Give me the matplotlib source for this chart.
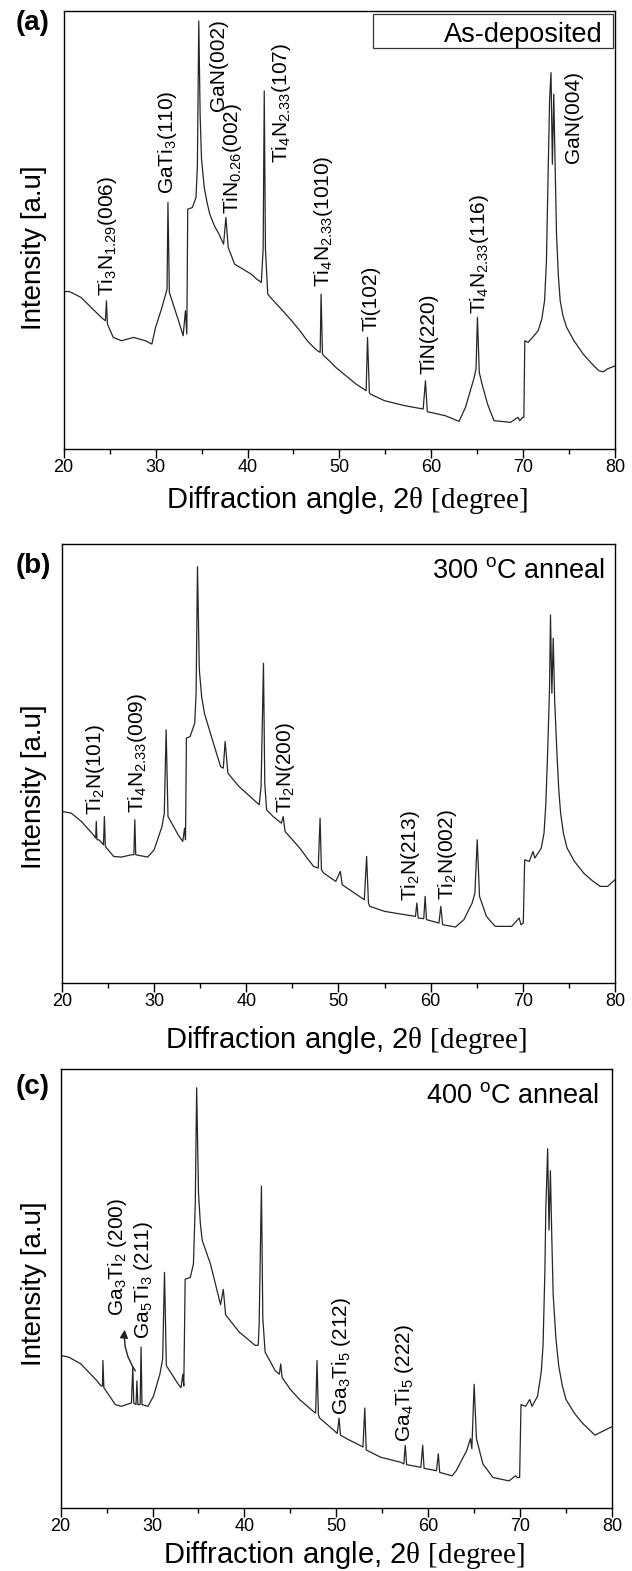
import matplotlib
matplotlib.use("Agg")
import matplotlib.pyplot as plt
from matplotlib.patches import Rectangle

plt.rcParams["font.family"] = ["Liberation Sans", "DejaVu Sans"]
plt.rcParams["mathtext.fontset"] = "custom"
plt.rcParams["mathtext.rm"] = "Liberation Sans"
plt.rcParams["mathtext.it"] = "Liberation Sans:italic"
plt.rcParams["mathtext.bf"] = "Liberation Sans:bold"
plt.rcParams["mathtext.tt"] = "Liberation Serif"

# ---- (a) as-deposited: 2theta [deg] vs intensity [a.u.]
ang_a = [20.0, 20.6, 21.2, 21.9, 23.0, 24.1, 24.55, 24.66, 24.77, 25.4, 26.3, 27.6,
         28.9, 29.6, 30.0, 30.7, 31.1, 31.25, 31.35, 31.5, 32.5, 33.0, 33.25, 33.4,
         33.5, 34.0, 34.4, 34.55, 34.7, 34.85, 35.0, 35.3, 35.6, 35.9, 36.4, 36.9,
         37.4, 37.65, 37.9, 38.6, 39.5, 40.4, 41.0, 41.5, 41.7, 41.82, 41.95, 42.2,
         42.5, 43.0, 44.0, 44.8, 45.7, 46.5, 47.2, 47.6, 47.9, 48.0, 48.15, 48.3,
         49.0, 49.6, 50.7, 51.8, 52.9, 53.05, 53.25, 53.35, 54.9, 57.1, 59.1, 59.35,
         59.55, 61.5, 63.0, 63.7, 64.6, 64.85, 65.0, 65.2, 65.5, 66.1, 66.8, 68.6,
         69.4, 69.6, 69.9, 70.05, 70.15, 70.5, 71.0, 71.6, 72.0, 72.3, 72.5, 72.7,
         72.85, 73.0, 73.15, 73.3, 73.45, 73.6, 73.8, 74.0, 74.3, 74.7, 75.5, 76.5,
         77.3, 78.2, 78.7, 79.1, 80.0]
int_a = [472, 473, 465, 455, 425, 395, 385, 445, 375, 335, 325, 335,
         325, 315, 365, 425, 465, 480, 740, 470, 385, 340, 415, 345,
         720, 725, 755, 850, 1285, 1000, 870, 785, 740, 705, 670, 645,
         615, 695, 605, 555, 540, 525, 510, 500, 600, 1075, 600, 465,
         455, 440, 410, 385, 355, 325, 305, 295, 290, 465, 285, 280,
         262, 245, 220, 195, 175, 335, 170, 165, 145, 130, 120, 205,
         112, 100, 83, 125, 210, 240, 395, 230, 195, 135, 85, 80,
         95, 85, 95, 95, 325, 320, 335, 355, 390, 445, 560, 845,
         1050, 1130, 855, 1065, 850, 645, 520, 445, 400, 365, 325, 285,
         260, 235, 232, 240, 250]

# ---- (b) 300 C anneal
ang_b = [20.0, 21.0, 22.1, 23.4, 23.65, 23.72, 23.8, 24.0, 24.5, 24.6, 24.7, 25.6,
         26.45, 27.55, 27.8, 27.9, 28.0, 29.3, 30.0, 30.85, 31.1, 31.3, 31.5, 32.6,
         33.1, 33.3, 33.4, 33.5, 33.9, 34.4, 34.55, 34.7, 34.9, 35.15, 35.45, 36.1,
         37.2, 37.5, 37.7, 38.0, 39.2, 40.4, 41.4, 41.6, 41.86, 42.0, 42.2, 42.9,
         43.8, 44.0, 44.2, 45.0, 45.8, 46.6, 47.3, 47.8, 48.0, 48.15, 48.4, 49.7,
         50.2, 50.4, 51.2, 52.0, 52.8, 53.05, 53.25, 53.4, 55.0, 57.2, 58.35, 58.5,
         58.65, 59.25, 59.4, 59.55, 60.9, 61.1, 61.3, 62.7, 63.6, 64.5, 64.8, 65.05,
         65.3, 66.05, 67.0, 68.8, 69.6, 69.8, 70.05, 70.2, 70.7, 71.1, 71.3, 72.0,
         72.3, 72.5, 72.7, 72.9, 73.0, 73.15, 73.3, 73.45, 73.7, 73.9, 74.1, 74.4,
         74.8, 75.6, 76.6, 77.5, 78.4, 79.2, 80.0]
int_b = [515, 510, 485, 445, 435, 485, 430, 430, 415, 500, 410, 380,
         378, 385, 385, 490, 385, 378, 400, 470, 510, 760, 500, 445,
         425, 465, 430, 735, 740, 780, 870, 1250, 940, 860, 810, 750,
         650, 645, 725, 630, 590, 560, 535, 590, 960, 600, 520, 500,
         480, 500, 455, 430, 405, 375, 350, 345, 495, 340, 330, 305,
         335, 295, 280, 265, 250, 380, 240, 230, 215, 205, 200, 240,
         195, 193, 260, 190, 180, 230, 175, 168, 190, 240, 270, 430,
         260, 200, 170, 170, 195, 175, 180, 370, 365, 395, 375, 405,
         450, 540, 700, 890, 1105, 870, 1035, 850, 690, 580, 510, 450,
         405, 365, 330, 308, 290, 290, 310]

# ---- (c) 400 C anneal
ang_c = [20.0, 20.9, 22.2, 23.96, 24.4, 24.55, 24.6, 24.7, 25.95, 26.6, 27.7, 27.85,
         27.95, 28.2, 28.3, 28.4, 28.65, 28.75, 28.85, 29.5, 30.1, 30.8, 31.1, 31.3,
         31.5, 32.8, 33.1, 33.3, 33.4, 33.55, 34.1, 34.45, 34.65, 34.8, 35.0, 35.2,
         35.4, 36.3, 37.4, 37.7, 37.95, 39.4, 41.15, 41.5, 41.6, 41.85, 42.0, 42.25,
         43.35, 43.8, 43.95, 44.1, 45.0, 46.0, 47.5, 47.75, 47.9, 48.05, 48.2, 49.7,
         50.1, 50.3, 50.45, 51.3, 52.2, 52.9, 53.1, 53.25, 53.35, 54.8, 57.0, 57.35,
         57.5, 57.65, 59.2, 59.4, 59.55, 60.9, 61.1, 61.25, 62.6, 63.05, 64.2, 64.6,
         64.75, 65.0, 65.25, 65.95, 67.05, 68.8, 69.5, 69.7, 69.95, 70.1, 70.6, 71.05,
         71.3, 71.9, 72.3, 72.5, 72.7, 72.8, 73.0, 73.15, 73.3, 73.45, 73.6, 73.9,
         74.2, 74.6, 75.0, 75.9, 76.8, 78.15, 79.25, 80.0]
int_c = [450, 445, 425, 375, 360, 360, 435, 355, 305, 300, 310, 415,
         310, 305, 375, 305, 305, 475, 305, 300, 330, 395, 440, 695,
         420, 365, 355, 395, 360, 675, 680, 720, 900, 1240, 930, 840,
         790, 720, 600, 645, 570, 520, 480, 480, 540, 950, 560, 460,
         405, 395, 425, 385, 350, 320, 285, 280, 435, 275, 265, 230,
         220, 265, 215, 202, 190, 180, 295, 172, 170, 150, 135, 130,
         185, 128, 120, 185, 117, 110, 160, 105, 95, 110, 170, 205,
         175, 365, 205, 130, 90, 80, 95, 90, 90, 305, 300, 320,
         300, 330, 400, 480, 700, 880, 1060, 820, 995, 800, 630, 500,
         420, 360, 320, 280, 250, 215, 230, 240]

# peak labels: (2theta, intensity at label foot, text)
labels_a = [(24.75, 460, r"Ti$_3$N$_{1.29}$(006)"),
            (31.35, 765, r"GaTi$_3$(110)"),
            (36.85, 1015, "GaN(002)"),
            (38.4, 705, r"TiN$_{0.26}$(002)"),
            (43.7, 860, r"Ti$_4$N$_{2.33}$(107)"),
            (48.3, 485, r"Ti$_4$N$_{2.33}$(1010)"),
            (53.4, 355, "Ti(102)"),
            (59.75, 225, "TiN(220)"),
            (65.25, 405, r"Ti$_4$N$_{2.33}$(116)"),
            (75.4, 860, "GaN(004)")]
labels_b = [(23.6, 505, r"Ti$_2$N(101)"),
            (28.2, 510, r"Ti$_4$N$_{2.33}$(009)"),
            (44.2, 510, r"Ti$_2$N(200)"),
            (57.8, 245, r"Ti$_2$N(213)"),
            (61.8, 250, r"Ti$_2$N(002)")]
labels_c = [(26.2, 565, r"Ga$_3$Ti$_2$ (200)"),
            (29.0, 500, r"Ga$_5$Ti$_3$ (211)"),
            (50.6, 275, r"Ga$_3$Ti$_5$ (212)"),
            (57.45, 195, r"Ga$_4$Ti$_5$ (222)")]

panels = [
    dict(ang=ang_a, inten=int_a, ymax=1315, labels=labels_a, tag="(a)",
         rect=[0.1006, 0.7142, 0.8731, 0.2788], tag_y=10, ylab_y=248, xlab_y=-0.116),
    dict(ang=ang_b, inten=int_b, ymax=1318, labels=labels_b, tag="(b)",
         rect=[0.0981, 0.3743, 0.8750, 0.2794], tag_y=553, ylab_y=787, xlab_y=-0.130),
    dict(ang=ang_c, inten=int_c, ymax=1295, labels=labels_c, tag="(c)",
         rect=[0.0960, 0.0401, 0.8723, 0.2794], tag_y=1074, ylab_y=1284, xlab_y=-0.107),
]

W, H = 632, 1571
fig = plt.figure(figsize=(W / 100, H / 100), dpi=100)
axes = []
for p in panels:
    ax = fig.add_axes(p["rect"])
    ax.plot(p["ang"], p["inten"], color="#262626", lw=0.9)
    ax.set_xlim(20, 80)
    ax.set_ylim(0, p["ymax"])
    ax.set_xticks(range(20, 81, 10))
    ax.set_xticks(range(25, 80, 10), minor=True)
    ax.set_yticks([])
    ax.tick_params(axis="x", which="major", direction="out", length=6.5, width=1.0,
                   labelsize=13, pad=1)
    ax.tick_params(axis="x", which="minor", direction="out", length=3.4, width=1.0)
    for s in ax.spines.values():
        s.set_linewidth(1.0)
    for x, y, t in p["labels"]:
        ax.text(x, y, t, rotation=90, ha="center", va="bottom", fontsize=15)
    ax.text(50.8, p["xlab_y"], r"Diffraction angle, 2$\mathtt{\theta\ [degree]}$",
            transform=ax.get_xaxis_transform(), ha="center", va="center", fontsize=21)
    fig.text(34 / W, 1 - p["ylab_y"] / H, "Intensity [a.u]", rotation=90,
             ha="center", va="center", fontsize=20)
    fig.text(16 / W, 1 - p["tag_y"] / H, p["tag"], ha="left", va="top",
             fontsize=20, fontweight="bold")
    axes.append(ax)

ax_a, ax_b, ax_c = axes
ax_a.add_patch(Rectangle((0.561, 0.9155), 0.4347, 0.0775, transform=ax_a.transAxes,
                         facecolor="white", edgecolor="#333333", lw=0.9, zorder=3))
ax_a.text(0.9775, 0.929, "As-deposited", transform=ax_a.transAxes, ha="right",
          va="baseline", fontsize=19.5, zorder=4)
ax_b.text(0.982, 0.9226, r"300 $^{\mathrm{o}}$C anneal", transform=ax_b.transAxes,
          ha="right", va="baseline", fontsize=19.5)
ax_c.text(0.976, 0.9226, r"400 $^{\mathrm{o}}$C anneal", transform=ax_c.transAxes,
          ha="right", va="baseline", fontsize=19.5)
ax_c.annotate("", xy=(27.0, 534), xytext=(28.3, 398),
              arrowprops=dict(arrowstyle="-|>", color="#222222", lw=1.0,
                              connectionstyle="arc3,rad=-0.2", mutation_scale=12))

fig.savefig("out.png", dpi=100)
